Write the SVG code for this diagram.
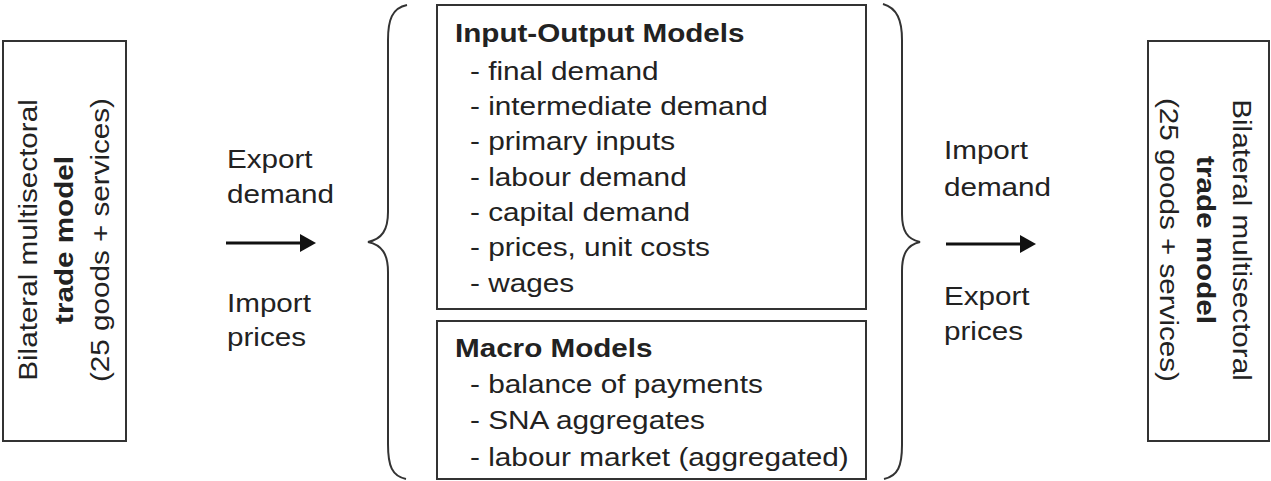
<svg xmlns="http://www.w3.org/2000/svg" width="1271" height="481" viewBox="0 0 1271 481">
<style>
text { font-family: "Liberation Sans", Arial, sans-serif; font-size: 26px; fill: #222; }
.b { font-weight: bold; }
.box { fill: #fff; stroke: #333; stroke-width: 2; }
.brace { fill: none; stroke: #333; stroke-width: 2; }
.arr { stroke: #111; stroke-width: 3; fill: none; }
.head { fill: #111; stroke: none; }
</style>
<rect width="1271" height="481" fill="#fff"/>
<g id="left-model">
  <rect class="box" x="3" y="41" width="123" height="400"/>
  <text text-anchor="middle" transform="translate(37,240) rotate(-90) scale(1.14,1)">Bilateral multisectoral</text>
  <text class="b" text-anchor="middle" transform="translate(73,240) rotate(-90) scale(1.14,1)">trade model</text>
  <text text-anchor="middle" transform="translate(109,240) rotate(-90) scale(1.14,1)">(25 goods + services)</text>
</g>
<g id="right-model">
  <rect class="box" x="1148" y="41" width="121" height="400"/>
  <text text-anchor="middle" transform="translate(1233,240) rotate(90) scale(1.14,1)">Bilateral multisectoral</text>
  <text class="b" text-anchor="middle" transform="translate(1197,240) rotate(90) scale(1.14,1)">trade model</text>
  <text text-anchor="middle" transform="translate(1160,240) rotate(90) scale(1.14,1)">(25 goods + services)</text>
</g>
<g id="io-models">
  <rect class="box" x="437" y="5" width="429" height="304"/>
  <text class="b" transform="translate(455,42) scale(1.14,1)">Input-Output Models</text>
  <text transform="translate(470,80) scale(1.145,1)">- final demand</text>
  <text transform="translate(470,115) scale(1.145,1)">- intermediate demand</text>
  <text transform="translate(470,150) scale(1.145,1)">- primary inputs</text>
  <text transform="translate(470,186) scale(1.145,1)">- labour demand</text>
  <text transform="translate(470,221) scale(1.145,1)">- capital demand</text>
  <text transform="translate(470,256) scale(1.145,1)">- prices, unit costs</text>
  <text transform="translate(470,292) scale(1.145,1)">- wages</text>
</g>
<g id="macro-models">
  <rect class="box" x="437" y="321" width="429" height="158"/>
  <text class="b" transform="translate(455,357) scale(1.14,1)">Macro Models</text>
  <text transform="translate(470,393) scale(1.145,1)">- balance of payments</text>
  <text transform="translate(470,429) scale(1.145,1)">- SNA aggregates</text>
  <text transform="translate(470,466) scale(1.145,1)">- labour market (aggregated)</text>
</g>
<g id="left-brace">
  <path class="brace" d="M407,5 C392,8 388,20 388,40 L388,212 C388,230 382,239 368,242 C382,245 388,254 388,272 L388,444 C388,466 392,476 406,479"/>
</g>
<g id="right-brace">
  <path class="brace" d="M883,4 C897,8 902,20 902,40 L902,214 C902,231 907,239 920,242 C907,245 902,254 902,271 L902,445 C902,466 898,476 884,479"/>
</g>
<g id="connectors">
  <line class="arr" x1="226" y1="243" x2="303" y2="243"/>
  <polygon class="head" points="300,234 316,243 300,252"/>
  <line class="arr" x1="946" y1="244" x2="1023" y2="244"/>
  <polygon class="head" points="1020,235 1036,244 1020,253"/>
</g>
<g id="labels">
  <text transform="translate(227,168) scale(1.14,1)">Export</text>
  <text transform="translate(227,203) scale(1.14,1)">demand</text>
  <text transform="translate(227,312) scale(1.14,1)">Import</text>
  <text transform="translate(227,346) scale(1.14,1)">prices</text>
  <text transform="translate(944,159) scale(1.14,1)">Import</text>
  <text transform="translate(944,196) scale(1.14,1)">demand</text>
  <text transform="translate(944,305) scale(1.14,1)">Export</text>
  <text transform="translate(944,340) scale(1.14,1)">prices</text>
</g>
</svg>
